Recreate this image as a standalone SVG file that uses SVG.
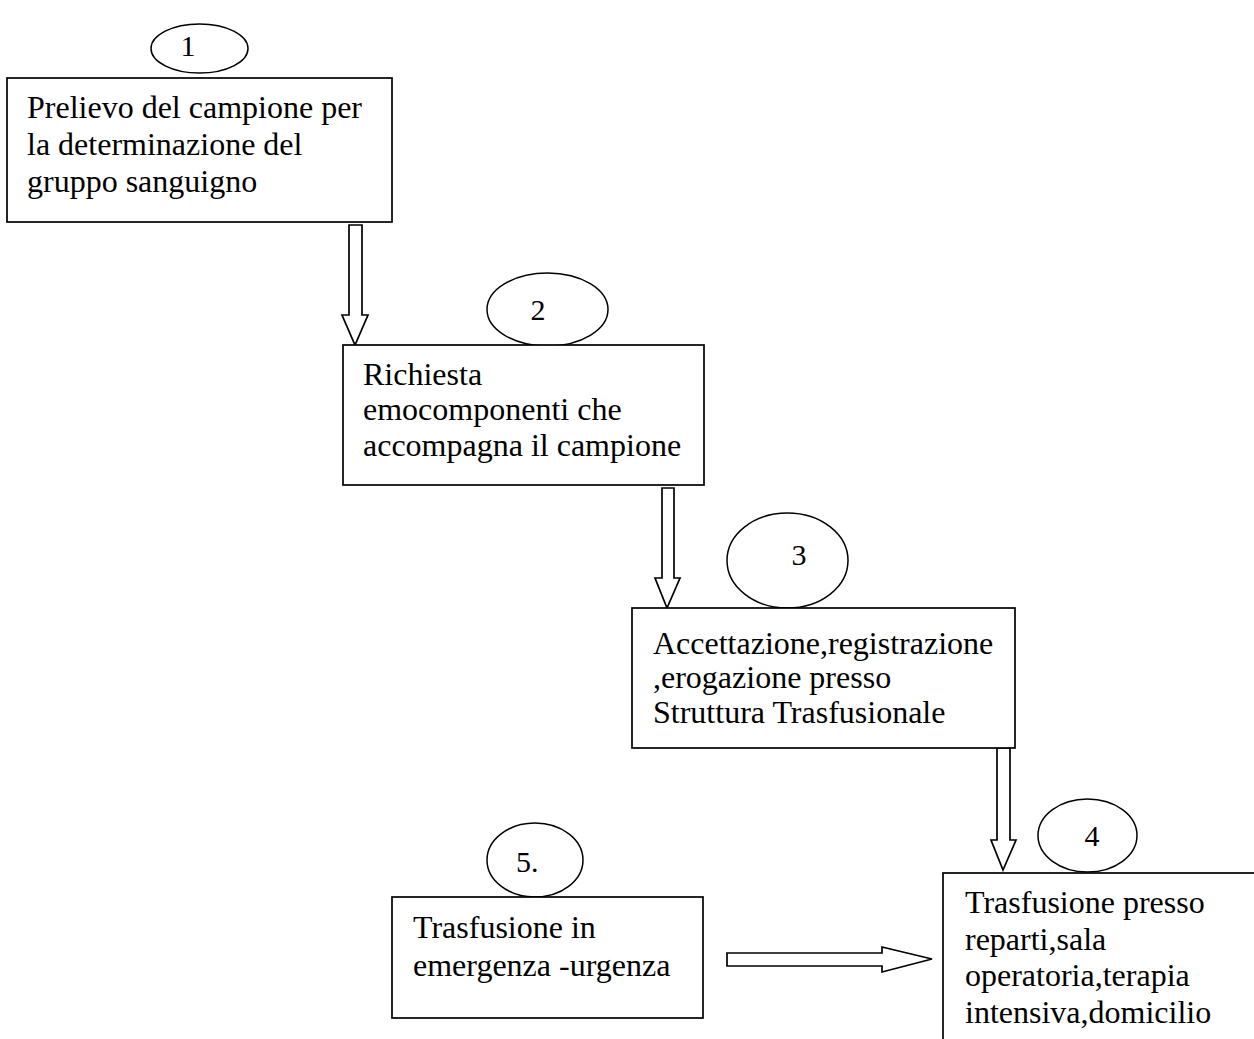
<svg xmlns="http://www.w3.org/2000/svg" width="1254" height="1039" viewBox="0 0 1254 1039">
<style>
.box{fill:#fff;stroke:#000;stroke-width:1.7}
.oval{fill:#fff;stroke:#000;stroke-width:1.5}
.arr{fill:#fff;stroke:#000;stroke-width:1.7;stroke-linejoin:miter}
text{font-family:"Liberation Serif","Times New Roman",serif;font-size:32px;fill:#000}
.num{font-size:30px;text-anchor:middle}
</style>
<rect width="1254" height="1039" fill="#fff"/>
<g id="connectors">
<path class="arr" d="M349,225 L362,225 L362,315 L368,315 L355,345 L342,315 L349,315 Z"/>
<path class="arr" d="M662,488 L674,488 L674,578 L680,578 L667,608 L655,578 L662,578 Z"/>
<path class="arr" d="M997,748 L1010,748 L1010,840 L1016,840 L1003,870 L991,840 L997,840 Z"/>
<path class="arr" d="M727,953 L882,953 L882,947 L932,959 L882,972 L882,966 L727,966 Z"/>
</g>
<g id="node1">
<ellipse class="oval" cx="199.5" cy="48.5" rx="48.5" ry="24.5"/>
<text class="num" x="188" y="56">1</text>
<rect class="box" x="7" y="78" width="385" height="144"/>
<text x="27" y="118">Prelievo del campione per</text>
<text x="27" y="155">la determinazione del</text>
<text x="27" y="192">gruppo sanguigno</text>
</g>
<g id="node2">
<ellipse class="oval" cx="547.5" cy="309.5" rx="60.5" ry="36.5"/>
<text class="num" x="538" y="320">2</text>
<rect class="box" x="343" y="345" width="361" height="140"/>
<text x="363" y="385">Richiesta</text>
<text x="363" y="420">emocomponenti che</text>
<text x="363" y="456">accompagna il campione</text>
</g>
<g id="node3">
<ellipse class="oval" cx="787.5" cy="560.5" rx="60.5" ry="47.5"/>
<text class="num" x="799" y="565">3</text>
<rect class="box" x="632" y="608" width="383" height="140"/>
<text x="653" y="654">Accettazione,registrazione</text>
<text x="653" y="688">,erogazione presso</text>
<text x="653" y="723">Struttura Trasfusionale</text>
</g>
<g id="node4">
<ellipse class="oval" cx="1087.5" cy="835.5" rx="49.5" ry="36.5"/>
<text class="num" x="1092" y="846">4</text>
<rect class="box" x="943" y="873" width="400" height="300"/>
<text x="965" y="913">Trasfusione presso</text>
<text x="965" y="950">reparti,sala</text>
<text x="965" y="986">operatoria,terapia</text>
<text x="965" y="1023">intensiva,domicilio</text>
</g>
<g id="node5">
<ellipse class="oval" cx="535" cy="860" rx="48" ry="37"/>
<text x="516" y="872" style="font-size:30px">5.</text>
<rect class="box" x="392" y="897" width="311" height="121"/>
<text x="413" y="938">Trasfusione in</text>
<text x="413" y="976">emergenza -urgenza</text>
</g>
</svg>
